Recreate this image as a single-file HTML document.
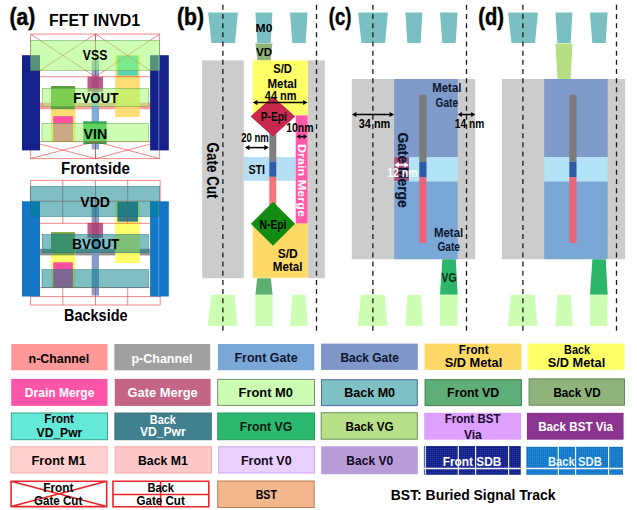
<!DOCTYPE html>
<html><head><meta charset="utf-8"><title>FFET INVD1</title>
<style>
html,body{margin:0;padding:0;background:#fff;}
body{width:637px;height:510px;overflow:hidden;}
svg{display:block;}
svg text{font-family:"Liberation Sans",sans-serif;font-weight:bold;}
</style></head><body>
<svg width="637" height="510" viewBox="0 0 637 510">
<rect width="637" height="510" fill="#ffffff"/>
<rect x="40.00" y="102.70" width="110.10" height="6.60" fill="#ff9999" fill-opacity="0.95" />
<rect x="91.70" y="60.50" width="7.30" height="88.90" fill="#7ba7d7" fill-opacity="0.95" />
<rect x="51.00" y="86.00" width="24.40" height="55.50" fill="#ffd966" fill-opacity="0.9" />
<rect x="115.20" y="55.20" width="24.60" height="61.80" fill="#ffd966" fill-opacity="0.9" />
<rect x="53.20" y="116.20" width="19.70" height="25.30" fill="#ff4fa0" />
<rect x="87.50" y="76.80" width="15.50" height="14.90" fill="#b03870" fill-opacity="0.82" />
<rect x="51.00" y="86.00" width="23.90" height="23.20" fill="#4f9838" fill-opacity="0.92" />
<rect x="117.40" y="55.60" width="20.60" height="20.00" fill="#4fd4b4" fill-opacity="0.95" />
<rect x="83.30" y="121.30" width="23.30" height="22.70" fill="#28a858" />
<path d="M30.6 34.1H95.5V76.7H30.6Z M30.6 34.1L95.5 76.7 M95.5 34.1L30.6 76.7" fill="none" stroke="#e8262a" stroke-width="0.55"/>
<path d="M95.5 34.1H159.6V76.7H95.5Z M95.5 34.1L159.6 76.7 M159.6 34.1L95.5 76.7" fill="none" stroke="#e8262a" stroke-width="0.55"/>
<path d="M30.6 141.6H95.5V158.6H30.6Z M30.6 141.6L95.5 158.6 M95.5 141.6L30.6 158.6" fill="none" stroke="#e8262a" stroke-width="0.55"/>
<path d="M95.5 141.6H159.6V158.6H95.5Z M95.5 141.6L159.6 158.6 M159.6 141.6L95.5 158.6" fill="none" stroke="#e8262a" stroke-width="0.55"/>
<rect x="22.00" y="55.20" width="18.00" height="95.20" fill="#15228c" />
<rect x="150.10" y="55.20" width="18.70" height="95.20" fill="#15228c" />
<line x1="158.80" y1="55.20" x2="158.80" y2="150.40" stroke="#9fb4e8" stroke-width="0.6" />
<rect x="30.70" y="40.40" width="128.90" height="29.90" fill="#99ff66" fill-opacity="0.5" stroke="#5f9f4f" stroke-width="0.5" />
<rect x="42.20" y="88.50" width="106.10" height="18.00" fill="#99ff66" fill-opacity="0.5" stroke="#5f9f4f" stroke-width="0.5" />
<rect x="42.00" y="123.60" width="106.50" height="17.80" fill="#99ff66" fill-opacity="0.5" stroke="#5f9f4f" stroke-width="0.5" />
<text x="82.80" y="60.30" textLength="24.50" lengthAdjust="spacingAndGlyphs" font-size="15.3" fill="#000">VSS</text>
<text x="73.30" y="103.30" textLength="45.00" lengthAdjust="spacingAndGlyphs" font-size="15.3" fill="#000">FVOUT</text>
<text x="83.40" y="138.50" textLength="23.80" lengthAdjust="spacingAndGlyphs" font-size="15.3" fill="#000">VIN</text>
<text x="61.00" y="173.90" textLength="68.80" lengthAdjust="spacingAndGlyphs" font-size="15.6" fill="#000">Frontside</text>
<rect x="40.00" y="248.80" width="110.10" height="6.60" fill="#8c8c8c" fill-opacity="0.95" />
<rect x="91.70" y="206.60" width="7.30" height="88.90" fill="#7f97c8" fill-opacity="0.95" />
<rect x="51.00" y="232.10" width="24.40" height="55.50" fill="#ffff5a" fill-opacity="0.9" />
<rect x="115.20" y="201.30" width="24.60" height="61.80" fill="#ffff5a" fill-opacity="0.9" />
<rect x="53.20" y="262.30" width="19.70" height="25.30" fill="#ff4fa0" />
<rect x="87.50" y="222.90" width="15.50" height="14.90" fill="#b03870" fill-opacity="0.82" />
<rect x="51.00" y="232.10" width="23.90" height="23.20" fill="#6a9a50" fill-opacity="0.92" />
<rect x="117.40" y="201.70" width="20.60" height="20.00" fill="#2f7585" fill-opacity="0.95" />
<path d="M30.5 180.4H160.2V223.3H30.5Z M62.8 180.4V223.3 M95.5 180.4V223.3 M127.7 180.4V223.3 M30.5 201.2H160.2" fill="none" stroke="#e8262a" stroke-width="0.55"/>
<path d="M30.5 287.6H160.2V305H30.5Z M62.8 287.6V305 M95.5 287.6V305 M127.7 287.6V305 M30.5 296.6H160.2" fill="none" stroke="#e8262a" stroke-width="0.55"/>
<rect x="22.00" y="201.30" width="18.00" height="95.20" fill="#1478c8" />
<rect x="150.10" y="201.30" width="18.70" height="95.20" fill="#1478c8" />
<line x1="158.80" y1="201.30" x2="158.80" y2="296.50" stroke="#9fb4e8" stroke-width="0.6" />
<rect x="30.70" y="186.50" width="128.90" height="29.90" fill="#008088" fill-opacity="0.5" stroke="#20707a" stroke-width="0.5" />
<rect x="42.20" y="234.60" width="106.10" height="18.00" fill="#008088" fill-opacity="0.5" stroke="#20707a" stroke-width="0.5" />
<rect x="42.00" y="269.70" width="106.50" height="17.80" fill="#008088" fill-opacity="0.5" stroke="#20707a" stroke-width="0.5" />
<text x="80.30" y="206.60" textLength="29.70" lengthAdjust="spacingAndGlyphs" font-size="15.3" fill="#000">VDD</text>
<text x="72.30" y="249.30" textLength="47.00" lengthAdjust="spacingAndGlyphs" font-size="15.3" fill="#000">BVOUT</text>
<text x="64.00" y="320.50" textLength="63.60" lengthAdjust="spacingAndGlyphs" font-size="15.6" fill="#000">Backside</text>
<text x="9.50" y="25.20" textLength="25.70" lengthAdjust="spacingAndGlyphs" font-size="24" fill="#000" stroke="#000" stroke-width="0.5">(a)</text>
<text x="49.00" y="26.40" textLength="91.20" lengthAdjust="spacingAndGlyphs" font-size="15.6" fill="#000">FFET INVD1</text>
<polygon points="208.10,12.60 237.90,12.60 235.10,42.90 211.50,42.90" fill="#7abfc1"/>
<polygon points="255.40,12.60 272.40,12.60 270.70,42.90 257.30,42.90" fill="#7abfc1"/>
<polygon points="290.00,12.60 307.60,12.60 305.70,42.90 292.30,42.90" fill="#7abfc1"/>
<polygon points="255.40,43.50 272.40,43.50 270.60,60.40 257.40,60.40" fill="#8db37a"/>
<rect x="202.20" y="60.40" width="41.60" height="217.80" fill="#cdcccc" />
<rect x="307.70" y="60.40" width="17.10" height="217.80" fill="#cdcccc" />
<rect x="252.70" y="60.40" width="55.00" height="55.00" fill="#ffff66" />
<rect x="252.70" y="223.40" width="55.00" height="54.40" fill="#ffd966" />
<rect x="243.80" y="157.00" width="51.90" height="23.80" fill="#b7dff3" />
<rect x="295.70" y="115.40" width="12.00" height="108.00" fill="#ff5aa8" />
<rect x="269.30" y="130.00" width="7.00" height="31.50" fill="#7f7f7f" />
<rect x="269.30" y="161.50" width="7.00" height="15.30" fill="#2e5fa8" />
<rect x="269.30" y="176.80" width="7.00" height="33.20" fill="#f4777f" />
<polygon points="272.90,96.40 295.20,116.40 272.90,136.40 250.60,116.40" fill="#c8284e"/>
<polygon points="273.00,201.80 295.10,223.80 273.00,245.80 250.90,223.80" fill="#118c11"/>
<polygon points="257.20,278.20 270.80,278.20 272.60,294.80 255.40,294.80" fill="#5fae72"/>
<polygon points="211.00,294.80 234.70,294.80 237.40,326.00 207.90,326.00" fill="#ccffb3"/>
<polygon points="255.40,294.80 272.60,294.80 272.60,326.00 255.40,326.00" fill="#ccffb3"/>
<polygon points="292.40,294.80 305.50,294.80 307.50,326.00 290.00,326.00" fill="#ccffb3"/>
<line x1="222.90" y1="4.80" x2="222.90" y2="331.50" stroke="#1a1a1a" stroke-width="1.3" stroke-dasharray="5 4.17"/>
<line x1="316.50" y1="4.80" x2="316.50" y2="331.50" stroke="#1a1a1a" stroke-width="1.3" stroke-dasharray="5 4.17"/>
<line x1="256.05" y1="102.50" x2="304.45" y2="102.50" stroke="#000" stroke-width="1.5" />
<polygon points="252.90,102.50 257.40,99.90 257.40,105.10" fill="#000"/>
<polygon points="307.60,102.50 303.10,99.90 303.10,105.10" fill="#000"/>
<line x1="248.15" y1="147.60" x2="265.65" y2="147.60" stroke="#000" stroke-width="1.5" />
<polygon points="245.00,147.60 249.50,145.00 249.50,150.20" fill="#000"/>
<polygon points="268.80,147.60 264.30,145.00 264.30,150.20" fill="#000"/>
<line x1="299.12" y1="136.60" x2="304.68" y2="136.60" stroke="#000" stroke-width="1.5" />
<polygon points="296.60,136.60 300.20,134.30 300.20,138.90" fill="#000"/>
<polygon points="307.20,136.60 303.60,134.30 303.60,138.90" fill="#000"/>
<text x="177.00" y="25.20" textLength="27.00" lengthAdjust="spacingAndGlyphs" font-size="24" fill="#000" stroke="#000" stroke-width="0.5">(b)</text>
<text x="255.60" y="32.30" textLength="16.80" lengthAdjust="spacingAndGlyphs" font-size="10.5" fill="#000">M0</text>
<text x="256.00" y="56.30" textLength="16.20" lengthAdjust="spacingAndGlyphs" font-size="10.5" fill="#000">VD</text>
<text x="273.20" y="73.00" textLength="18.80" lengthAdjust="spacingAndGlyphs" font-size="12.1" fill="#000">S/D</text>
<text x="267.50" y="87.60" textLength="29.40" lengthAdjust="spacingAndGlyphs" font-size="12.1" fill="#000">Metal</text>
<text x="264.80" y="99.60" textLength="31.80" lengthAdjust="spacingAndGlyphs" font-size="12.1" fill="#000">44 nm</text>
<text x="260.70" y="121.00" textLength="26.10" lengthAdjust="spacingAndGlyphs" font-size="12.1" fill="#000">P-Epi</text>
<text x="286.20" y="132.00" textLength="27.40" lengthAdjust="spacingAndGlyphs" font-size="12.1" fill="#000">10nm</text>
<text x="241.20" y="142.30" textLength="27.60" lengthAdjust="spacingAndGlyphs" font-size="12.1" fill="#000">20 nm</text>
<text x="248.40" y="174.00" textLength="16.60" lengthAdjust="spacingAndGlyphs" font-size="12.1" fill="#000">STI</text>
<text x="259.50" y="229.30" textLength="27.00" lengthAdjust="spacingAndGlyphs" font-size="12.1" fill="#000">N-Epi</text>
<text x="277.70" y="257.80" textLength="20.10" lengthAdjust="spacingAndGlyphs" font-size="12.1" fill="#000">S/D</text>
<text x="272.80" y="271.00" textLength="29.60" lengthAdjust="spacingAndGlyphs" font-size="12.1" fill="#000">Metal</text>
<text x="0" y="0" textLength="56.10" lengthAdjust="spacingAndGlyphs" font-size="15.6" fill="#000" transform="translate(206.90 142.50) rotate(90)">Gate Cut</text>
<text x="0" y="0" textLength="73.00" lengthAdjust="spacingAndGlyphs" font-size="11.8" fill="#fff" transform="translate(297.90 144.00) rotate(90)">Drain Merge</text>
<polygon points="358.10,12.60 387.90,12.60 385.10,42.90 361.50,42.90" fill="#7abfc1"/>
<polygon points="405.40,12.60 422.40,12.60 420.70,42.90 407.30,42.90" fill="#7abfc1"/>
<polygon points="440.00,12.60 457.60,12.60 455.70,42.90 442.30,42.90" fill="#7abfc1"/>
<rect x="351.80" y="79.00" width="123.40" height="180.20" fill="#cdcccc" />
<rect x="394.20" y="79.00" width="63.50" height="78.10" fill="#7f9bca" />
<rect x="394.20" y="157.10" width="63.50" height="24.50" fill="#b3e3f6" />
<rect x="394.20" y="181.60" width="63.50" height="77.60" fill="#7ba7d7" />
<rect x="394.20" y="157.10" width="14.80" height="24.10" fill="#a8537d" />
<rect x="419.30" y="94.80" width="7.20" height="67.00" fill="#7b7b7b" />
<rect x="419.30" y="161.80" width="7.20" height="15.30" fill="#2e5aa6" />
<rect x="419.30" y="177.10" width="7.20" height="65.90" fill="#e8667a" />
<polygon points="442.40,259.20 455.80,259.20 457.70,294.80 440.00,294.80" fill="#2db56a"/>
<polygon points="361.00,294.80 384.70,294.80 387.40,326.00 357.90,326.00" fill="#ccffb3"/>
<polygon points="407.60,294.80 420.70,294.80 422.90,326.00 405.40,326.00" fill="#ccffb3"/>
<polygon points="440.00,294.80 457.60,294.80 457.30,326.00 440.00,326.00" fill="#ccffb3"/>
<line x1="372.90" y1="4.80" x2="372.90" y2="331.50" stroke="#1a1a1a" stroke-width="1.3" stroke-dasharray="5 4.17"/>
<line x1="466.50" y1="4.80" x2="466.50" y2="331.50" stroke="#1a1a1a" stroke-width="1.3" stroke-dasharray="5 4.17"/>
<line x1="355.05" y1="114.50" x2="390.95" y2="114.50" stroke="#000" stroke-width="1.5" />
<polygon points="351.90,114.50 356.40,111.90 356.40,117.10" fill="#000"/>
<polygon points="394.10,114.50 389.60,111.90 389.60,117.10" fill="#000"/>
<line x1="460.60" y1="114.50" x2="472.40" y2="114.50" stroke="#000" stroke-width="1.5" />
<polygon points="457.80,114.50 461.80,112.00 461.80,117.00" fill="#000"/>
<polygon points="475.20,114.50 471.20,112.00 471.20,117.00" fill="#000"/>
<line x1="397.52" y1="164.90" x2="405.68" y2="164.90" stroke="#fff" stroke-width="1.6" />
<polygon points="394.30,164.90 398.90,162.00 398.90,167.80" fill="#fff"/>
<polygon points="408.90,164.90 404.30,162.00 404.30,167.80" fill="#fff"/>
<text x="328.80" y="25.20" textLength="22.60" lengthAdjust="spacingAndGlyphs" font-size="24" fill="#000" stroke="#000" stroke-width="0.5">(c)</text>
<text x="432.30" y="92.00" textLength="29.10" lengthAdjust="spacingAndGlyphs" font-size="12.1" fill="#0b1730">Metal</text>
<text x="435.60" y="106.50" textLength="22.40" lengthAdjust="spacingAndGlyphs" font-size="12.1" fill="#0b1730">Gate</text>
<text x="358.80" y="128.00" textLength="31.40" lengthAdjust="spacingAndGlyphs" font-size="12.1" fill="#000">34 nm</text>
<text x="454.80" y="128.00" textLength="29.50" lengthAdjust="spacingAndGlyphs" font-size="12.1" fill="#000">14 nm</text>
<text x="434.00" y="237.00" textLength="29.20" lengthAdjust="spacingAndGlyphs" font-size="12.1" fill="#0b1730">Metal</text>
<text x="437.40" y="250.70" textLength="22.60" lengthAdjust="spacingAndGlyphs" font-size="12.1" fill="#0b1730">Gate</text>
<text x="0" y="0" textLength="75.30" lengthAdjust="spacingAndGlyphs" font-size="14.9" fill="#0b1730" stroke="#0b1730" stroke-width="0.3" transform="translate(397.70 132.40) rotate(90)">Gate Merge</text>
<text x="387.20" y="177.00" textLength="30.50" lengthAdjust="spacingAndGlyphs" font-size="12.1" fill="#fff">12 nm</text>
<text x="441.60" y="281.50" textLength="14.80" lengthAdjust="spacingAndGlyphs" font-size="12.1" fill="#0b2b17">VG</text>
<polygon points="508.10,12.60 537.90,12.60 535.10,42.90 511.50,42.90" fill="#7abfc1"/>
<polygon points="555.40,12.60 572.40,12.60 570.70,42.90 557.30,42.90" fill="#7abfc1"/>
<polygon points="590.00,12.60 607.60,12.60 605.70,42.90 592.30,42.90" fill="#7abfc1"/>
<polygon points="555.40,43.50 572.50,43.50 570.60,79.00 557.50,79.00" fill="#b5df84"/>
<rect x="501.80" y="79.00" width="123.40" height="180.20" fill="#cdcccc" />
<rect x="544.20" y="79.00" width="63.50" height="78.10" fill="#7f9bca" />
<rect x="544.20" y="157.10" width="63.50" height="24.50" fill="#b3e3f6" />
<rect x="544.20" y="181.60" width="63.50" height="77.60" fill="#7ba7d7" />
<rect x="569.30" y="94.80" width="7.20" height="67.00" fill="#7b7b7b" />
<rect x="569.30" y="161.80" width="7.20" height="15.30" fill="#2e5aa6" />
<rect x="569.30" y="177.10" width="7.20" height="65.90" fill="#e8667a" />
<polygon points="592.40,259.20 605.80,259.20 607.70,294.80 590.00,294.80" fill="#2db56a"/>
<polygon points="511.00,294.80 534.70,294.80 537.40,326.00 507.90,326.00" fill="#ccffb3"/>
<polygon points="557.60,294.80 570.70,294.80 572.90,326.00 555.40,326.00" fill="#ccffb3"/>
<polygon points="590.00,294.80 607.60,294.80 607.30,326.00 590.00,326.00" fill="#ccffb3"/>
<line x1="522.90" y1="4.80" x2="522.90" y2="331.50" stroke="#1a1a1a" stroke-width="1.3" stroke-dasharray="5 4.17"/>
<line x1="616.50" y1="4.80" x2="616.50" y2="331.50" stroke="#1a1a1a" stroke-width="1.3" stroke-dasharray="5 4.17"/>
<text x="478.30" y="25.20" textLength="25.70" lengthAdjust="spacingAndGlyphs" font-size="24" fill="#000" stroke="#000" stroke-width="0.5">(d)</text>
<rect x="11.20" y="344.00" width="96.30" height="26.30" fill="#ff9999" />
<rect x="114.40" y="344.00" width="95.80" height="26.30" fill="#a0a0a0" />
<rect x="217.90" y="344.00" width="96.30" height="26.30" fill="#7ba7d7" />
<rect x="321.00" y="343.60" width="96.80" height="26.30" fill="#7f97c8" />
<rect x="424.60" y="343.60" width="96.90" height="26.30" fill="#ffd966" />
<rect x="527.60" y="343.60" width="97.00" height="26.30" fill="#ffff66" />
<rect x="11.20" y="378.90" width="96.30" height="27.00" fill="#ff55a8" />
<rect x="114.80" y="378.90" width="95.80" height="27.00" fill="#c46585" />
<rect x="217.70" y="379.40" width="96.80" height="26.00" fill="#ccffb3" stroke="#7a8f74" stroke-width="1" />
<rect x="321.50" y="379.70" width="95.80" height="25.90" fill="#7fc0c4" stroke="#4a6aa6" stroke-width="1" />
<rect x="425.10" y="379.70" width="96.30" height="25.90" fill="#5fae78" stroke="#3f7f52" stroke-width="1" />
<rect x="529.10" y="378.90" width="95.40" height="26.30" fill="#8fb47b" stroke="#66875a" stroke-width="1" />
<rect x="11.30" y="413.00" width="96.20" height="26.70" fill="#64e8d8" stroke="#3f9f90" stroke-width="1" />
<rect x="114.90" y="413.00" width="96.40" height="26.70" fill="#40808f" stroke="#3a7482" stroke-width="1" />
<rect x="217.70" y="413.00" width="96.80" height="26.70" fill="#2db870" stroke="#279a5e" stroke-width="1" />
<rect x="321.20" y="412.70" width="96.10" height="26.50" fill="#b8e088" stroke="#6f8f5a" stroke-width="1" />
<rect x="424.20" y="412.80" width="96.90" height="26.90" fill="#dca0ff" />
<rect x="526.90" y="412.80" width="96.70" height="26.90" fill="#8b3590" />
<rect x="10.90" y="446.80" width="96.30" height="26.20" fill="#ffd0d0" stroke="#f4b4b4" stroke-width="1" />
<rect x="115.20" y="446.80" width="96.20" height="26.20" fill="#ffc8c8" stroke="#eea8a8" stroke-width="1" />
<rect x="218.70" y="446.80" width="95.80" height="26.20" fill="#e8d0ff" stroke="#d4a4ec" stroke-width="1" />
<rect x="321.20" y="446.30" width="96.60" height="28.00" fill="#b89cd8" />
<defs><pattern id="dotf" width="2" height="2" patternUnits="userSpaceOnUse"><rect width="2" height="2" fill="#15228c"/><rect width="1" height="1" fill="#2a3aa4"/></pattern><pattern id="dotb" width="2" height="2" patternUnits="userSpaceOnUse"><rect width="2" height="2" fill="#1478c8"/><rect width="1" height="1" fill="#2a8ad6"/></pattern></defs>
<rect x="423.90" y="446.00" width="96.90" height="28.80" fill="url(#dotf)" />
<line x1="425.30" y1="446.00" x2="425.30" y2="474.80" stroke="#fff" stroke-width="1.1" />
<line x1="458.30" y1="446.00" x2="458.30" y2="474.80" stroke="#fff" stroke-width="1.1" />
<line x1="475.60" y1="446.00" x2="475.60" y2="474.80" stroke="#fff" stroke-width="1.1" />
<line x1="508.60" y1="446.00" x2="508.60" y2="474.80" stroke="#fff" stroke-width="1.1" />
<line x1="423.90" y1="468.50" x2="520.80" y2="468.50" stroke="#fff" stroke-width="1.3" />
<rect x="526.30" y="446.80" width="96.70" height="28.00" fill="url(#dotb)" />
<line x1="558.30" y1="446.80" x2="558.30" y2="474.80" stroke="#fff" stroke-width="1.1" />
<line x1="575.60" y1="446.80" x2="575.60" y2="474.80" stroke="#fff" stroke-width="1.1" />
<line x1="608.60" y1="446.80" x2="608.60" y2="474.80" stroke="#fff" stroke-width="1.1" />
<line x1="526.30" y1="468.50" x2="623.00" y2="468.50" stroke="#fff" stroke-width="1.3" />
<path d="M11.1 481.3H106.7V506.6H11.1Z M11.1 481.3L106.7 506.6 M106.7 481.3L11.1 506.6" fill="none" stroke="#e8262a" stroke-width="1.6"/>
<path d="M113 481.3H208.8V506.7H113Z M160.6 481.3V506.7 M113 494.5H208.8" fill="none" stroke="#e8262a" stroke-width="1.6"/>
<rect x="217.70" y="481.00" width="96.50" height="26.50" fill="#f4b68c" stroke="#b8805c" stroke-width="1" />
<text x="28.60" y="362.60" textLength="60.50" lengthAdjust="spacingAndGlyphs" font-size="13.4" fill="#000">n-Channel</text>
<text x="131.40" y="362.60" textLength="61.20" lengthAdjust="spacingAndGlyphs" font-size="13.4" fill="#fff">p-Channel</text>
<text x="234.50" y="362.20" textLength="63.10" lengthAdjust="spacingAndGlyphs" font-size="13.4" fill="#0b1730">Front Gate</text>
<text x="340.40" y="361.80" textLength="58.40" lengthAdjust="spacingAndGlyphs" font-size="13.4" fill="#0b1730">Back Gate</text>
<text x="458.80" y="354.40" textLength="29.80" lengthAdjust="spacingAndGlyphs" font-size="13.4" fill="#000">Front</text>
<text x="444.70" y="367.40" textLength="57.60" lengthAdjust="spacingAndGlyphs" font-size="13.4" fill="#000">S/D Metal</text>
<text x="564.10" y="354.40" textLength="26.00" lengthAdjust="spacingAndGlyphs" font-size="13.4" fill="#000">Back</text>
<text x="547.70" y="367.40" textLength="57.50" lengthAdjust="spacingAndGlyphs" font-size="13.4" fill="#000">S/D Metal</text>
<text x="24.80" y="397.10" textLength="69.60" lengthAdjust="spacingAndGlyphs" font-size="13.4" fill="#fff">Drain Merge</text>
<text x="127.60" y="397.10" textLength="70.10" lengthAdjust="spacingAndGlyphs" font-size="13.4" fill="#fff">Gate Merge</text>
<text x="238.60" y="397.10" textLength="54.30" lengthAdjust="spacingAndGlyphs" font-size="13.4" fill="#000">Front M0</text>
<text x="344.20" y="397.10" textLength="50.90" lengthAdjust="spacingAndGlyphs" font-size="13.4" fill="#000">Back M0</text>
<text x="447.10" y="397.10" textLength="52.20" lengthAdjust="spacingAndGlyphs" font-size="13.4" fill="#000">Front VD</text>
<text x="553.40" y="396.80" textLength="47.40" lengthAdjust="spacingAndGlyphs" font-size="13.4" fill="#000">Back VD</text>
<text x="44.30" y="423.00" textLength="29.70" lengthAdjust="spacingAndGlyphs" font-size="13.4" fill="#000">Front</text>
<text x="36.60" y="436.60" textLength="45.70" lengthAdjust="spacingAndGlyphs" font-size="13.4" fill="#000">VD_Pwr</text>
<text x="149.80" y="423.60" textLength="26.00" lengthAdjust="spacingAndGlyphs" font-size="13.4" fill="#fff">Back</text>
<text x="140.00" y="436.40" textLength="45.70" lengthAdjust="spacingAndGlyphs" font-size="13.4" fill="#fff">VD_Pwr</text>
<text x="239.80" y="431.20" textLength="52.50" lengthAdjust="spacingAndGlyphs" font-size="13.4" fill="#06200f">Front VG</text>
<text x="345.50" y="431.00" textLength="48.10" lengthAdjust="spacingAndGlyphs" font-size="13.4" fill="#000">Back VG</text>
<text x="444.70" y="422.60" textLength="55.80" lengthAdjust="spacingAndGlyphs" font-size="13.4" fill="#1c0a2a">Front BST</text>
<text x="463.90" y="439.40" textLength="17.90" lengthAdjust="spacingAndGlyphs" font-size="13.4" fill="#1c0a2a">Via</text>
<text x="538.20" y="431.20" textLength="74.90" lengthAdjust="spacingAndGlyphs" font-size="13.4" fill="#fff">Back BST Via</text>
<text x="31.50" y="464.90" textLength="54.30" lengthAdjust="spacingAndGlyphs" font-size="13.4" fill="#000">Front M1</text>
<text x="138.00" y="464.90" textLength="49.80" lengthAdjust="spacingAndGlyphs" font-size="13.4" fill="#000">Back M1</text>
<text x="240.90" y="464.90" textLength="50.80" lengthAdjust="spacingAndGlyphs" font-size="13.4" fill="#12061e">Front V0</text>
<text x="346.30" y="465.20" textLength="46.90" lengthAdjust="spacingAndGlyphs" font-size="13.4" fill="#12061e">Back V0</text>
<text x="442.70" y="465.60" textLength="58.70" lengthAdjust="spacingAndGlyphs" font-size="13.4" fill="#fff">Front SDB</text>
<text x="547.90" y="465.60" textLength="53.90" lengthAdjust="spacingAndGlyphs" font-size="13.4" fill="#e8f6ff">Back SDB</text>
<text x="43.20" y="491.90" textLength="30.30" lengthAdjust="spacingAndGlyphs" font-size="13.4" fill="#000">Front</text>
<text x="34.00" y="504.90" textLength="48.30" lengthAdjust="spacingAndGlyphs" font-size="13.4" fill="#000">Gate Cut</text>
<text x="147.40" y="491.90" textLength="26.60" lengthAdjust="spacingAndGlyphs" font-size="13.4" fill="#000">Back</text>
<text x="136.40" y="504.90" textLength="48.40" lengthAdjust="spacingAndGlyphs" font-size="13.4" fill="#000">Gate Cut</text>
<text x="255.70" y="499.10" textLength="21.20" lengthAdjust="spacingAndGlyphs" font-size="13.4" fill="#000">BST</text>
<text x="390.80" y="500.00" textLength="164.70" lengthAdjust="spacingAndGlyphs" font-size="15.5" fill="#000">BST: Buried Signal Track</text>
</svg>
</body></html>
